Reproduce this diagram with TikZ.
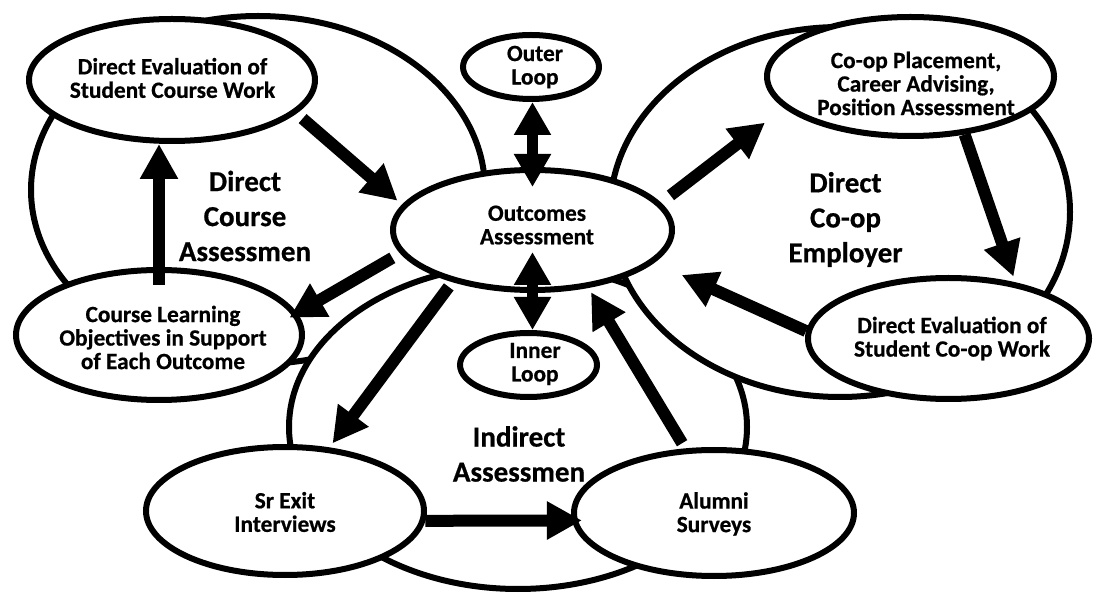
\documentclass[tikz,border=0pt]{standalone}
\usepackage{fontspec}
\setmainfont[BoldFeatures={FakeBold=0.6}]{Carlito}
\usetikzlibrary{arrows.meta,shapes.geometric}

\begin{document}
\begin{tikzpicture}[x=1pt, y=-1pt,
	bigloop/.style={draw, line width=6pt, fill=white},
	goal/.style={ellipse, draw, line width=6pt, fill=white, inner sep=0pt},
	goaltxt/.style={font=\bfseries\fontsize{23.3}{23.5}\selectfont, align=center},
	looptxt/.style={font=\bfseries\fontsize{29}{35}\selectfont, align=center},
	blk/.style={line width=12pt, -{Triangle[length=35pt,width=36pt]}},
	dblk/.style={line width=11pt, {Triangle[length=33pt,width=35pt]}-{Triangle[length=33pt,width=35pt]}}]
	\fill[white] (0,0) rectangle (1093,593);
	\useasboundingbox (0,0) rectangle (1093,593);
	% the three loops
	\draw[bigloop] (258,190) ellipse [x radius=227, y radius=174];
	\draw[bigloop] (518,427) ellipse [x radius=229, y radius=162];
	\draw[bigloop] (840,212) ellipse [x radius=230, y radius=185];
	\node[looptxt] (dca) at (245,216) {Direct\\Course\\Assessmen};
	\node[looptxt] (dce) at (845.5,219.5) {Direct\\Co-op\\Employer};
	\node[looptxt] (ia) at (519,454) {Indirect\\Assessmen};
	% the steps
	\node[goal, minimum width=286pt, minimum height=122pt] (dev) at (172,80) {};
	\node[goal, minimum width=286pt, minimum height=130pt] (clo) at (159,335) {};
	\node[goal, minimum width=279pt, minimum height=120pt] (outc) at (532.5,230) {};
	\node[goal, minimum width=136pt, minimum height=64pt] (outer) at (531,67) {};
	\node[goal, minimum width=137pt, minimum height=64pt] (inner) at (528.5,365) {};
	\node[goal, minimum width=287pt, minimum height=119pt] (cpl) at (910.5,76.5) {};
	\node[goal, minimum width=281pt, minimum height=121pt] (cwk) at (948.5,338.5) {};
	\node[goal, minimum width=278pt, minimum height=128pt] (sre) at (285,511) {};
	\node[goal, minimum width=280pt, minimum height=126pt] (alu) at (714,513) {};
	\node[goaltxt] (dev-t) at (172.5,78) {Direct Evaluation of\\Student Course Work};
	\node[goaltxt] (clo-t) at (163,337.5) {Course Learning\\Objectives in Support\\of Each Outcome};
	\node[goaltxt] (outc-t) at (537,225) {Outcomes\\Assessment};
	\node[goaltxt] (outer-t) at (535,67) {Outer\\Loop};
	\node[goaltxt] (inner-t) at (535,364) {Inner\\Loop};
	\node[goaltxt] (cpl-t) at (916,83.5) {Co-op Placement,\\Career Advising,\\Position Assessment};
	\node[goaltxt] (cwk-t) at (952,338.5) {Direct Evaluation of\\Student Co-op Work};
	\node[goaltxt] (sre-t) at (285,512) {Sr Exit\\Interviews};
	\node[goaltxt] (alu-t) at (714,514) {Alumni\\Surveys};
	% arrows
	\draw[blk, shorten <=8pt, shorten >=6pt] (dev.-15) -- (outc.169);
	\draw[blk, shorten <=-18pt] (clo.north) -- (clo.north |- dev.south);
	\draw[dblk, shorten <=-20pt] (outc.north) -- (outc.north |- outer.south);
	\draw[dblk, shorten >=-41pt] (outc.south |- inner.north) -- (outc.south);
	\draw[blk, shorten <=12pt, shorten >=24pt] (outc.12) -- (cpl.194);
	\draw[blk, shorten >=6pt] (cpl.-47) -- (cwk.40);
	\draw[blk, shorten >=30pt] (cwk.177) -- (outc.-15);
	\draw[blk, shorten <=6pt, shorten >=5pt] (alu.114) -- (outc.-46);
	\draw[blk, shorten <=9pt, shorten >=-9pt] (outc.190) -- (clo.9);
	\draw[blk, shorten <=6pt, shorten >=5pt] (outc.213) -- (sre.55);
	\draw[blk, shorten >=-10pt] (sre.-4) -- (alu.183);
\end{tikzpicture}
\end{document}
